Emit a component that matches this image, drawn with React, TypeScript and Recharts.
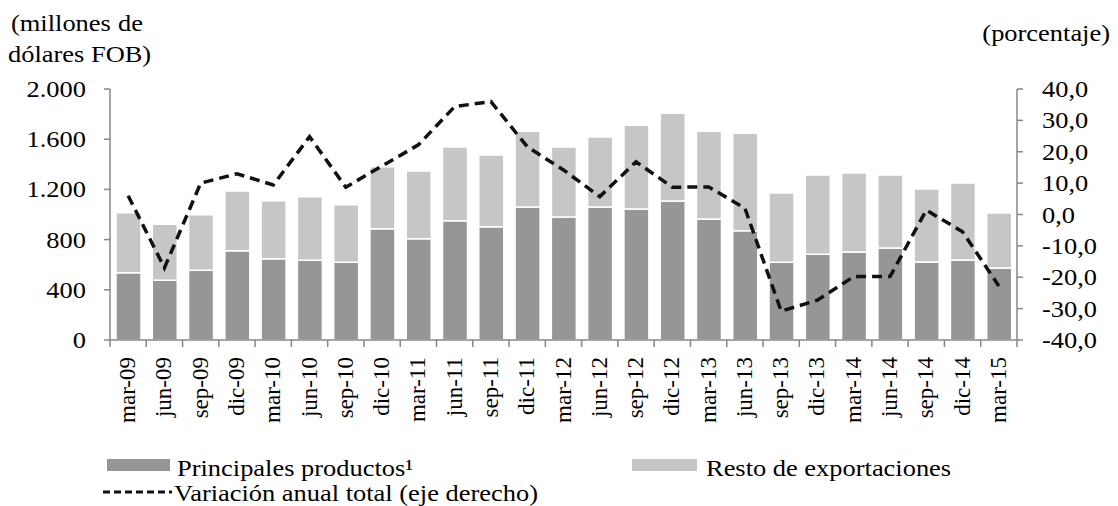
import React from "react";
import { ComposedChart, Bar, Line, XAxis, YAxis } from "recharts";

const quarters = [
  "mar-09", "jun-09", "sep-09", "dic-09", "mar-10", "jun-10", "sep-10", "dic-10",
  "mar-11", "jun-11", "sep-11", "dic-11", "mar-12", "jun-12", "sep-12", "dic-12",
  "mar-13", "jun-13", "sep-13", "dic-13", "mar-14", "jun-14", "sep-14", "dic-14", "mar-15",
];
const principales = [
  536, 476, 555, 712, 648, 635, 619, 887, 807, 951, 903, 1060, 980, 1060, 1044, 1108,
  964, 871, 619, 683, 701, 733, 622, 637, 574,
];
const resto = [
  478, 446, 444, 475, 462, 507, 459, 494, 540, 587, 571, 603, 558, 558, 667, 698,
  699, 776, 552, 632, 630, 582, 581, 614, 438,
];
const variacion = [
  6, -17, 10, 13, 9.4, 24.8, 8.7, 15.5, 22.2, 34.4, 36, 21.6, 14.2, 5.7, 16.8, 8.7,
  8.8, 2, -30.8, -27.3, -19.8, -19.8, 1.4, -5.5, -22.8,
];
const leftTicks = [0, 400, 800, 1200, 1600, 2000];
const rightTicks = [-40, -30, -20, -10, 0, 10, 20, 30, 40];

const W = 1118;
const H = 506;
const PLOT_LEFT = 110;
const PLOT_RIGHT = 1017;
const PLOT_TOP = 89;
const PLOT_BOTTOM = 340;
const STEP = (PLOT_RIGHT - PLOT_LEFT) / quarters.length;

const FONT = "Liberation Serif, Times New Roman, serif";
const FS = 23;
const SX = 1.15; // the source text is stretched horizontally
const AXIS = "#878787";
const DARK = "#969696";
const LIGHT = "#c6c6c6";

const data = quarters.map((q, i) => ({
  q,
  principales: principales[i],
  resto: resto[i],
  variacion: variacion[i],
}));

const fmtLeft = (v: number) => String(v).replace(/\B(?=(\d{3})+(?!\d))/g, ".");
const fmtRight = (v: number) => v.toFixed(1).replace(".", ",");

const textStyle = { fontFamily: FONT, fontSize: FS, fill: "#000" };

function Txt({ x, y, anchor = "start", children }: any) {
  return (
    <text transform={`translate(${x},${y}) scale(${SX},1)`} textAnchor={anchor} style={textStyle}>
      {children}
    </text>
  );
}

function LeftTick(props: any) {
  const { y, payload } = props;
  return (
    <text
      transform={`translate(86,${y}) scale(${SX},1)`}
      textAnchor="end"
      dy="0.35em"
      style={textStyle}
    >
      {fmtLeft(payload.value)}
    </text>
  );
}

function RightTick(props: any) {
  const { y, payload } = props;
  return (
    <text
      transform={`translate(1042,${y}) scale(${SX},1)`}
      textAnchor="start"
      dy="0.35em"
      style={textStyle}
    >
      {fmtRight(payload.value)}
    </text>
  );
}

function XTick(props: any) {
  const { x, payload, index } = props;
  const left = x - STEP / 2;
  return (
    <g>
      <line x1={left} x2={left} y1={PLOT_BOTTOM} y2={PLOT_BOTTOM + 7} stroke={AXIS} strokeWidth={1.5} />
      {index === quarters.length - 1 && (
        <line x1={x + STEP / 2} x2={x + STEP / 2} y1={PLOT_BOTTOM} y2={PLOT_BOTTOM + 7} stroke={AXIS} strokeWidth={1.5} />
      )}
      <text
        transform={`translate(${x + 7},${PLOT_BOTTOM + 17}) rotate(-90)`}
        textAnchor="end"
        style={textStyle}
      >
        {payload.value}
      </text>
    </g>
  );
}

export default function App() {
  return (
    <div style={{ position: "absolute", left: 0, top: 0, width: W, height: H, background: "#fff" }}>
      <ComposedChart
        width={W}
        height={H}
        data={data}
        margin={{ top: PLOT_TOP, right: 0, bottom: 0, left: 0 }}
      >
        <XAxis
          dataKey="q"
          interval={0}
          height={H - PLOT_BOTTOM}
          tickLine={false}
          tickSize={0}
          axisLine={{ stroke: AXIS, strokeWidth: 1.5 }}
          tick={<XTick />}
        />
        <YAxis
          yAxisId="left"
          width={PLOT_LEFT}
          domain={[0, 2000]}
          ticks={leftTicks}
          interval={0}
          tickSize={6}
          axisLine={{ stroke: AXIS, strokeWidth: 1.5 }}
          tickLine={{ stroke: AXIS, strokeWidth: 1.5 }}
          tick={<LeftTick />}
        />
        <YAxis
          yAxisId="right"
          orientation="right"
          width={W - PLOT_RIGHT}
          domain={[-40, 40]}
          ticks={rightTicks}
          interval={0}
          tickSize={6}
          axisLine={{ stroke: AXIS, strokeWidth: 1.5 }}
          tickLine={{ stroke: AXIS, strokeWidth: 1.5 }}
          tick={<RightTick />}
        />
        <Bar
          yAxisId="left"
          dataKey="principales"
          stackId="a"
          fill={DARK}
          stroke="#fff"
          strokeWidth={1.5}
          barSize={25}
          isAnimationActive={false}
        />
        <Bar
          yAxisId="left"
          dataKey="resto"
          stackId="a"
          fill={LIGHT}
          stroke="#fff"
          strokeWidth={1.5}
          barSize={25}
          isAnimationActive={false}
        />
        <Line
          yAxisId="right"
          dataKey="variacion"
          type="linear"
          stroke="#111"
          strokeWidth={3.5}
          strokeDasharray="10 6"
          dot={false}
          activeDot={false}
          isAnimationActive={false}
        />
      </ComposedChart>

      <svg width={W} height={H} style={{ position: "absolute", left: 0, top: 0, pointerEvents: "none" }}>
        <Txt x={11} y={31}>(millones</Txt>
        <Txt x={143} y={31} anchor="end">de</Txt>
        <Txt x={8} y={62}>dólares FOB)</Txt>
        <Txt x={1110} y={41} anchor="end">(porcentaje)</Txt>

        <rect x={107} y={459} width={63} height={12} fill={DARK} />
        <Txt x={177} y={476}>Principales productos¹</Txt>
        <rect x={632} y={459} width={65} height={12} fill={LIGHT} />
        <Txt x={706} y={476}>Resto de exportaciones</Txt>
        <line x1={103} x2={172} y1={492} y2={492} stroke="#111" strokeWidth={3} strokeDasharray="7 4" />
        <Txt x={174} y={501}>Variación anual total (eje derecho)</Txt>
      </svg>
    </div>
  );
}
